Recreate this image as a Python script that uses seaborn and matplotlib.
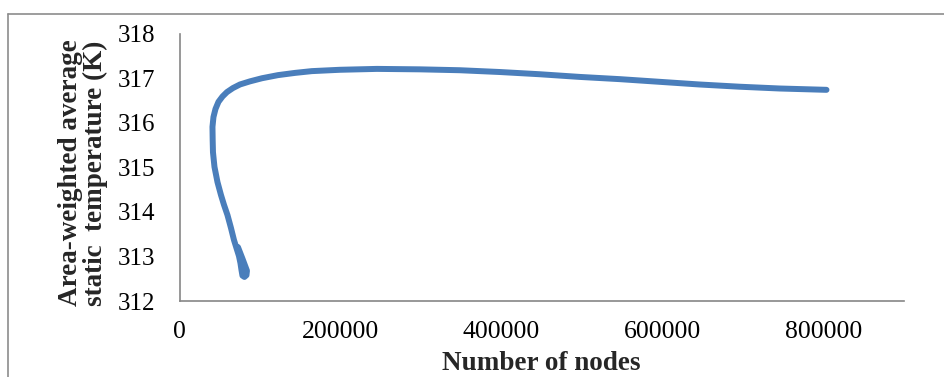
import matplotlib
matplotlib.use("Agg")
import matplotlib.pyplot as plt
import seaborn as sns
import pandas as pd
from matplotlib.lines import Line2D

# Mesh-independence study: node count vs. area-weighted static temperature
nodes = [72620, 78200, 81930, 83790, 83170, 80680, 78200, 76960, 75720, 73860,
         70750, 67650, 63930, 59580, 55240, 51510, 47170, 43450, 41580, 41210,
         40960, 42200, 44700, 48400, 53400, 59000, 66400, 75100, 87500, 102400,
         122300, 143400, 164400, 199200, 245200, 298500, 348200, 397900, 447500,
         497100, 546800, 596400, 646000, 695700, 745400, 803700]
temperature = [313.21, 312.95, 312.77, 312.68, 312.58, 312.54, 312.57, 312.70,
               312.85, 313.01, 313.19, 313.37, 313.64, 313.93, 314.16, 314.38,
               314.67, 315.01, 315.34, 315.61, 315.91, 316.13, 316.31, 316.47,
               316.59, 316.69, 316.78, 316.86, 316.93, 317.00, 317.07, 317.12,
               317.16, 317.19, 317.21, 317.20, 317.18, 317.14, 317.09, 317.03,
               316.98, 316.92, 316.86, 316.81, 316.77, 316.74]

x_ticks = [0, 200000, 400000, 600000, 800000]
y_ticks = [312, 313, 314, 315, 316, 317, 318]

df = pd.DataFrame({"nodes": nodes, "temperature": temperature})

sns.set_style("white")
plt.rcParams["font.family"] = ["Liberation Serif", "DejaVu Serif"]

W, H = 944, 377
fig = plt.figure(figsize=(W / 100, H / 100), dpi=100)
ax = fig.add_axes([179.5 / W, 1 - 301 / H, (904 - 179.5) / W, (301 - 33.7) / H])

line_color = "#4A7EBB"
axis_grey = "#868686"

sns.lineplot(data=df, x="nodes", y="temperature", sort=False, estimator=None,
             color=line_color, linewidth=4.3, ax=ax)
for ln in ax.get_lines():
    ln.set_solid_joinstyle("round")
    ln.set_solid_capstyle("round")

ax.set_xlim(0, 900000)
ax.set_ylim(312, 318)
ax.set_xticks(x_ticks)
ax.set_xticklabels([str(v) for v in x_ticks])
ax.set_yticks(y_ticks)
ax.set_yticklabels([str(v) for v in y_ticks])
ax.set_xlabel("")
ax.set_ylabel("")

for side in ["top", "right"]:
    ax.spines[side].set_visible(False)
for side in ["left", "bottom"]:
    ax.spines[side].set_color(axis_grey)
    ax.spines[side].set_linewidth(1.2)
ax.spines["left"].set_bounds(312, 318)

ax.tick_params(axis="y", direction="out", length=5, width=1.1, color=axis_grey,
               labelsize=18, pad=12.5, labelcolor="black")
ax.tick_params(axis="x", direction="out", length=5, width=1.1, color=axis_grey,
               labelsize=18.5, pad=9.5, labelcolor="black")
ax.grid(False)

fig.text(541 / W, 1 - 376 / H, "Number of nodes", ha="center", va="bottom",
         fontsize=19.5, fontweight="bold")
fig.text(83 / W, 1 - 173 / H, "Area-weighted average\nstatic  temperature (K)",
         ha="center", va="center", rotation=90, fontsize=19.5,
         fontweight="bold", linespacing=1.0)

# Chart-area border
fig.add_artist(Line2D([8 / W, 8 / W], [0, 1 - 14 / H], transform=fig.transFigure,
                      color="#8c8c8c", linewidth=1.2))
fig.add_artist(Line2D([8 / W, 1], [1 - 14 / H, 1 - 14 / H], transform=fig.transFigure,
                      color="#8c8c8c", linewidth=1.2))

fig.savefig("out.png", dpi=100)
